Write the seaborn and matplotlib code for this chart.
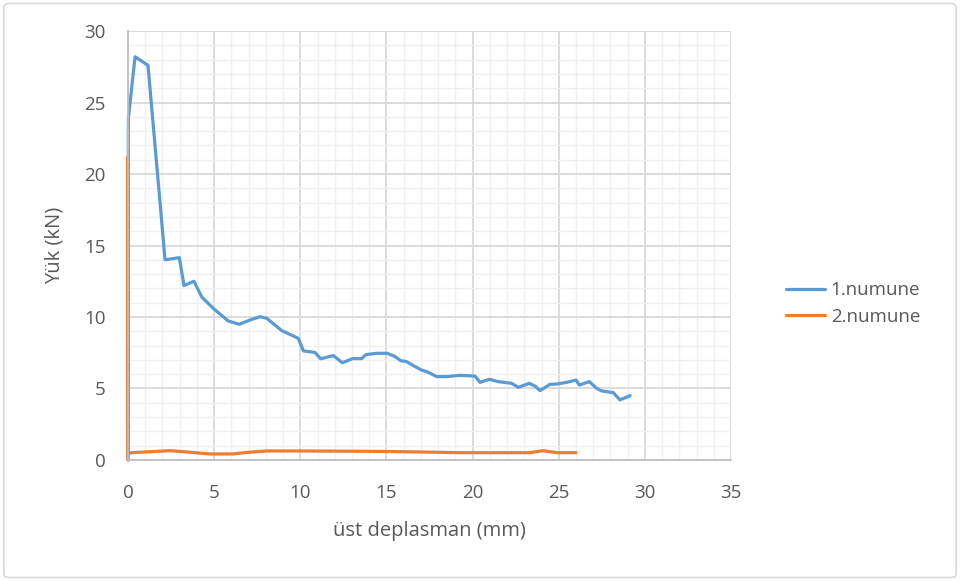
import matplotlib
matplotlib.use("Agg")
import matplotlib.pyplot as plt
from matplotlib.patches import FancyBboxPatch
from matplotlib.ticker import MultipleLocator
import pandas as pd
import seaborn as sns

# Load-displacement records of the two specimens
series_names = ["1.numune", "2.numune"]

x_numune1 = [0.0, 0.02, 0.41, 1.16, 2.15, 2.98, 3.25, 3.83, 4.28, 4.95, 5.82,
             6.46, 7.08, 7.66, 8.05, 8.92, 9.88, 10.18, 10.85, 11.18, 11.92,
             12.44, 13.04, 13.56, 13.81, 14.43, 15.05, 15.5, 15.84, 16.17,
             16.56, 17.04, 17.43, 17.92, 18.5, 19.27, 20.14, 20.43, 20.97,
             21.49, 22.27, 22.65, 23.29, 23.62, 23.91, 24.49, 24.88, 25.46,
             26.0, 26.2, 26.77, 27.2, 27.49, 28.17, 28.55, 29.14]
y_numune1 = [0.0, 23.9, 28.2, 27.6, 14.0, 14.15, 12.2, 12.5, 11.4, 10.6, 9.72,
             9.49, 9.79, 10.02, 9.91, 9.05, 8.51, 7.63, 7.52, 7.08, 7.3,
             6.8, 7.09, 7.09, 7.37, 7.46, 7.46, 7.23, 6.94, 6.88,
             6.6, 6.29, 6.13, 5.83, 5.83, 5.92, 5.87, 5.43, 5.64,
             5.48, 5.36, 5.08, 5.36, 5.17, 4.85, 5.29, 5.31, 5.43,
             5.59, 5.24, 5.48, 5.01, 4.83, 4.71, 4.2, 4.5]

x_numune2 = [0.0, 0.0, 0.02, 0.2, 1.0, 2.44, 3.5, 4.76, 6.1, 6.9, 8.05, 10.0,
             12.0, 14.6, 17.0, 19.3, 21.0, 23.3, 24.1, 24.9, 26.0]
y_numune2 = [0.0, 21.2, 0.45, 0.51, 0.56, 0.65, 0.55, 0.42, 0.42, 0.53, 0.63,
             0.63, 0.62, 0.6, 0.56, 0.51, 0.51, 0.51, 0.65, 0.51, 0.51]

x_ticks = [0, 5, 10, 15, 20, 25, 30, 35]
y_ticks = [0, 5, 10, 15, 20, 25, 30]
x_label = "üst deplasman (mm)"
y_label = "Yük (kN)"

df = pd.concat([
    pd.DataFrame({"x": x_numune1, "y": y_numune1, "seri": series_names[0]}),
    pd.DataFrame({"x": x_numune2, "y": y_numune2, "seri": series_names[1]}),
], ignore_index=True)

sns.set_theme(style="white")
plt.rcParams["font.family"] = ["Open Sans", "DejaVu Sans"]

text_grey = "#595959"
fig = plt.figure(figsize=(9.61, 5.81), dpi=100)
ax = fig.add_axes([0.1332, 0.2083, 0.6275, 0.7383])

sns.lineplot(data=df, x="x", y="y", hue="seri", hue_order=series_names,
             estimator=None, sort=False, palette=["#5b9bd5", "#ed7d31"],
             linewidth=2.3, ax=ax)
for line in ax.lines:
    line.set_clip_on(False)
    line.set_solid_joinstyle("round")

ax.set_xlim(0, 35)
ax.set_ylim(0, 30)
ax.set_xticks(x_ticks)
ax.set_yticks(y_ticks)
ax.xaxis.set_minor_locator(MultipleLocator(1))
ax.yaxis.set_minor_locator(MultipleLocator(1))
ax.grid(which="minor", color="#f0f0f0", linewidth=1.0)
ax.grid(which="major", color="#d9d9d9", linewidth=1.3)
ax.set_axisbelow(True)

for side in ["top", "right"]:
    ax.spines[side].set_visible(False)
for side in ["left", "bottom"]:
    ax.spines[side].set_color("#bfbfbf")
    ax.spines[side].set_linewidth(1.3)

ax.tick_params(axis="both", which="major", direction="out", length=5,
               width=1.2, color="#bfbfbf", labelsize=13.5,
               labelcolor=text_grey)
ax.tick_params(axis="both", which="minor", length=0)
ax.tick_params(axis="x", pad=12)
ax.tick_params(axis="y", pad=11)

ax.set_xlabel(x_label, fontsize=14.5, color=text_grey, labelpad=14)
ax.set_ylabel(y_label, fontsize=14.5, color=text_grey, labelpad=14)

handles, labels = ax.get_legend_handles_labels()
ax.legend_.remove()
fig.legend(handles, labels, loc="center left", bbox_to_anchor=(0.8, 0.478),
           frameon=False, fontsize=13.5, labelcolor=text_grey,
           handlelength=2.1, handletextpad=0.3, labelspacing=0.45)

# light rounded frame around the chart area
frame = FancyBboxPatch((0.004, 0.006), 0.991, 0.988,
                       boxstyle="round,pad=0,rounding_size=0.006",
                       transform=fig.transFigure, fill=False,
                       edgecolor="#d9d9d9", linewidth=1.2)
fig.patches.append(frame)

fig.savefig("out.png", dpi=100, facecolor="white")
